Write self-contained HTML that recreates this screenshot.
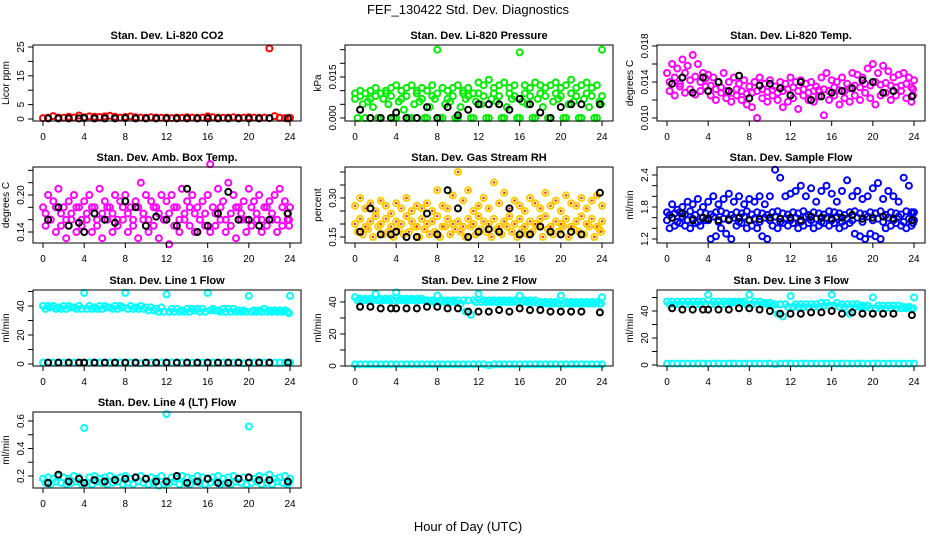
<!DOCTYPE html>
<html><head><meta charset="utf-8"><style>
html,body{margin:0;padding:0;background:#fff;}
svg{display:block;font-family:"Liberation Sans",sans-serif;}
</style></head><body>
<svg id="chart" width="936" height="540" viewBox="0 0 936 540" xmlns="http://www.w3.org/2000/svg">
<rect width="936" height="540" fill="#fff"/>
<text x="468" y="14" font-size="13" text-anchor="middle">FEF_130422  Std. Dev. Diagnostics</text>
<text x="468" y="531" font-size="13" text-anchor="middle">Hour of Day (UTC)</text>
</svg>
<script>
const hrs=[0,0.5,1,1.5,2,2.5,3,3.5,4,4.5,5,5.5,6,6.5,7,7.5,8,8.5,9,9.5,10,10.5,11,11.5,12,12.5,13,13.5,14,14.5,15,15.5,16,16.5,17,17.5,18,18.5,19,19.5,20,20.5,21,21.5,22,22.5,23,23.5,24];
const hrs2=[0.25,0.75,1.25,1.75,2.25,2.75,3.25,3.75,4.25,4.75,5.25,5.75,6.25,6.75,7.25,7.75,8.25,8.75,9.25,9.75,10.25,10.75,11.25,11.75,12.25,12.75,13.25,13.75,14.25,14.75,15.25,15.75,16.25,16.75,17.25,17.75,18.25,18.75,19.25,19.75,20.25,20.75,21.25,21.75,22.25,22.75,23.25,23.75,23.9];
const hrsB=[0.5,1.5,2.5,3.5,4,5,6,7,8,9,10,11,12,13,14,15,16,17,18,19,20,21,22,23.8];
const xTicks=[0,4,8,12,16,20,24];

const co2A=[0.3,0.4,1.0,0.5,0.4,0.8,0.5,1.2,0.6,0.9,0.8,0.7,0.9,1.1,0.8,0.5,0.7,0.9,0.6,0.5,0.4,0.6,0.5,0.4,0.5,0.3,0.5,0.4,0.6,0.5,0.4,0.5,0.9,0.6,0.5,0.4,0.5,0.6,0.4,0.5,0.6,0.5,0.4,0.5,24.5,1.0,0.4,0.3,0.4];
const co2B=[0.2,0.2,0.2,0.2,0.3,0.2,0.2,0.2,0.3,0.2,0.2,0.2,0.2,0.2,0.2,0.2,0.2,0.2,0.2,0.2,0.2,0.2,0.3,0.2];

const presA=[0.009,0.010,0.009,0.010,0.011,0.009,0.010,0.011,0.012,0.010,0.011,0.012,0.010,0.011,0.010,0.012,0.025,0.011,0.010,0.011,0.012,0.010,0.011,0.009,0.013,0.012,0.014,0.011,0.012,0.013,0.011,0.012,0.024,0.012,0.011,0.013,0.012,0.011,0.012,0.013,0.011,0.012,0.014,0.011,0.012,0.013,0.011,0.012,0.025];
const presB=[0,0.005,0.006,0.004,0,0.007,0.005,0,0.006,0.003,0,0.005,0.006,0,0.004,0.007,0,0.005,0.006,0,0.004,0.007,0,0.006,0.005,0,0.007,0.006,0,0.004,0.007,0,0.006,0.005,0,0.007,0.004,0,0.006,0.007,0,0.005,0.006,0,0.007,0.004,0,0.006,0.005];
const presC=[0.007,0.008,0,0.007,0.008,0,0.009,0.008,0,0.007,0.008,0,0.009,0.007,0,0.008,0.009,0,0.007,0.008,0,0.009,0.008,0,0.009,0.008,0,0.009,0.008,0,0.009,0.008,0,0.009,0.008,0,0.009,0.008,0,0.009,0.008,0,0.009,0.008,0,0.009,0.008,0,0.008];
const presK=[0.003,0,0,0,0.002,0,0,0.004,0,0.004,0.001,0.003,0.005,0.005,0.005,0.003,0.007,0.005,0.002,0,0.004,0.005,0.005,0.005];

const tempA=[0.0150,0.0160,0.0155,0.0165,0.0158,0.0170,0.0160,0.0150,0.0148,0.0145,0.0140,0.0150,0.0140,0.0145,0.0138,0.0142,0.0135,0.0140,0.0145,0.0138,0.0142,0.0135,0.0140,0.0138,0.0145,0.0140,0.0142,0.0138,0.0140,0.0135,0.0145,0.0150,0.0142,0.0140,0.0145,0.0138,0.0150,0.0148,0.0145,0.0155,0.0160,0.0150,0.0158,0.0152,0.0145,0.0148,0.0150,0.0145,0.0142];
const tempB=[0.0130,0.0125,0.0135,0.0128,0.0132,0.0126,0.0130,0.0135,0.0125,0.0120,0.0128,0.0122,0.0118,0.0125,0.0120,0.0115,0.0112,0.0100,0.0122,0.0118,0.0125,0.0120,0.0112,0.0118,0.0122,0.0110,0.0125,0.0120,0.0118,0.0124,0.0103,0.0120,0.0125,0.0115,0.0122,0.0118,0.0125,0.0120,0.0128,0.0122,0.0115,0.0125,0.0128,0.0120,0.0125,0.0130,0.0122,0.0118,0.0125];
const tempC=[0.0140,0.0145,0.0138,0.0150,0.0142,0.0146,0.0140,0.0144,0.0136,0.0132,0.0134,0.0130,0.0128,0.0132,0.0130,0.0127,0.0128,0.0130,0.0132,0.0129,0.0131,0.0128,0.0130,0.0132,0.0134,0.0130,0.0132,0.0128,0.0130,0.0131,0.0132,0.0130,0.0134,0.0131,0.0130,0.0133,0.0136,0.0134,0.0138,0.0136,0.0140,0.0137,0.0139,0.0136,0.0134,0.0136,0.0138,0.0134,0.0132];
const tempK=[0.0138,0.0145,0.0128,0.0145,0.0130,0.0140,0.0130,0.0147,0.0122,0.0136,0.0138,0.0133,0.0125,0.0140,0.0120,0.0124,0.0128,0.0130,0.0133,0.0142,0.0140,0.0128,0.0130,0.0124];

const ambA=[0.18,0.20,0.19,0.21,0.18,0.19,0.20,0.18,0.19,0.20,0.18,0.21,0.19,0.18,0.20,0.19,0.20,0.18,0.19,0.22,0.20,0.19,0.18,0.20,0.19,0.20,0.18,0.21,0.19,0.20,0.18,0.19,0.20,0.18,0.21,0.19,0.22,0.20,0.18,0.19,0.21,0.19,0.20,0.18,0.19,0.20,0.21,0.19,0.18];
const ambB=[0.15,0.16,0.14,0.15,0.13,0.16,0.14,0.15,0.16,0.14,0.15,0.13,0.16,0.14,0.15,0.16,0.14,0.15,0.13,0.16,0.14,0.15,0.13,0.16,0.12,0.15,0.14,0.16,0.15,0.14,0.16,0.15,0.14,0.15,0.16,0.14,0.15,0.13,0.16,0.14,0.15,0.16,0.14,0.15,0.16,0.14,0.15,0.16,0.15];
const ambC=[0.17,0.16,0.18,0.17,0.16,0.17,0.18,0.16,0.17,0.18,0.16,0.17,0.18,0.17,0.16,0.18,0.17,0.16,0.18,0.17,0.16,0.18,0.17,0.16,0.17,0.18,0.16,0.17,0.18,0.17,0.16,0.17,0.25,0.17,0.18,0.16,0.17,0.18,0.17,0.16,0.18,0.17,0.16,0.18,0.17,0.16,0.18,0.17,0.16];
const ambK=[0.16,0.18,0.15,0.155,0.14,0.17,0.16,0.155,0.19,0.18,0.15,0.165,0.16,0.15,0.21,0.14,0.15,0.17,0.205,0.16,0.16,0.15,0.16,0.17];

const rhA=[0.27,0.30,0.26,0.28,0.25,0.29,0.27,0.24,0.28,0.26,0.30,0.25,0.27,0.26,0.28,0.25,0.33,0.27,0.26,0.31,0.40,0.29,0.33,0.25,0.27,0.30,0.26,0.36,0.28,0.32,0.26,0.29,0.27,0.25,0.30,0.28,0.26,0.32,0.27,0.29,0.25,0.31,0.28,0.27,0.30,0.26,0.29,0.31,0.27];
const rhB=[0.17,0.16,0.18,0.15,0.19,0.16,0.17,0.15,0.18,0.16,0.17,0.19,0.15,0.18,0.16,0.17,0.15,0.19,0.16,0.18,0.17,0.15,0.19,0.16,0.18,0.17,0.15,0.18,0.16,0.19,0.17,0.15,0.18,0.16,0.17,0.19,0.15,0.18,0.16,0.17,0.19,0.15,0.18,0.17,0.16,0.19,0.15,0.18,0.17];
const rhC=[0.20,0.22,0.19,0.21,0.23,0.20,0.22,0.19,0.21,0.20,0.23,0.21,0.19,0.22,0.20,0.21,0.23,0.19,0.22,0.20,0.21,0.19,0.22,0.20,0.23,0.21,0.20,0.22,0.19,0.21,0.23,0.20,0.22,0.19,0.21,0.20,0.22,0.23,0.19,0.21,0.20,0.22,0.19,0.21,0.23,0.20,0.22,0.19,0.21];
const rhK=[0.17,0.26,0.16,0.16,0.17,0.15,0.15,0.24,0.16,0.33,0.26,0.15,0.17,0.18,0.17,0.26,0.16,0.16,0.19,0.17,0.16,0.17,0.16,0.32];

const flowA=[1.7,1.85,1.75,1.8,1.9,1.85,1.95,1.8,1.9,2.0,1.85,1.95,2.05,1.9,2.0,1.85,1.95,1.9,2.0,1.85,2.0,2.5,2.35,2.0,2.05,2.1,2.2,2.0,2.15,1.9,2.1,2.2,2.05,1.9,2.1,2.3,2.0,2.1,1.95,2.0,2.15,2.25,1.95,2.1,2.0,1.9,2.35,2.2,1.7];
const flowB=[1.4,1.45,1.5,1.45,1.4,1.5,1.45,1.55,1.2,1.25,1.4,1.3,1.2,1.45,1.5,1.4,1.45,1.4,1.25,1.2,1.45,1.4,1.5,1.45,1.5,1.4,1.45,1.5,1.4,1.45,1.5,1.45,1.5,1.4,1.45,1.5,1.3,1.25,1.2,1.3,1.25,1.2,1.4,1.45,1.5,1.45,1.4,1.45,1.5];
const flowC=[1.55,1.6,1.52,1.62,1.55,1.58,1.52,1.6,1.55,1.62,1.52,1.58,1.55,1.6,1.52,1.62,1.55,1.58,1.52,1.6,1.55,1.62,1.52,1.58,1.55,1.6,1.52,1.62,1.55,1.58,1.52,1.6,1.55,1.62,1.52,1.58,1.55,1.6,1.52,1.62,1.55,1.58,1.52,1.6,1.55,1.62,1.52,1.58,1.55];
const flowD=[1.65,1.68,1.7,1.66,1.72,1.65,1.7,1.68,1.66,1.7,1.72,1.68,1.65,1.7,1.68,1.72,1.66,1.7,1.68,1.65,1.7,1.72,1.68,1.66,1.7,1.68,1.72,1.65,1.7,1.68,1.66,1.72,1.7,1.68,1.65,1.7,1.72,1.68,1.66,1.7,1.68,1.72,1.65,1.7,1.68,1.66,1.72,1.7,1.68];
const flowK=[1.6,1.68,1.55,1.6,1.58,1.55,1.57,1.6,1.55,1.57,1.6,1.58,1.6,1.55,1.62,1.6,1.58,1.6,1.65,1.58,1.6,1.62,1.58,1.55];

const l1A=[40,40,40,39,40,40,39,40,49,40,39,40,40,39,40,40,49,40,39,40,39,39,38,39,48,38,38,37,38,38,38,38,49,38,37,38,38,38,37,37,47,37,37,38,37,37,37,37,47];
const l1B=[38,39,38,38,38,39,38,38,38,38,38,38,39,38,38,39,38,38,38,38,37,37,36,36,36,36,36,36,36,37,36,36,37,37,36,36,36,36,36,36,36,36,36,36,36,36,36,36,35];
const l1C=[1,1,1,1,1,1,1,1,1,1,1,1,1,1,1,1,1,1,1,0.5,1,1,1,1,1,1,1,1,1,1,1,1,1,1,1,1,1,1,1,0.5,1,1,1,1,1,1,1,1,1];
const l1K=[1,1,1,1,1,1,1,1,1,1,1,1,1,1,1,1,1,1,1,1,1,1,1,1];

const l2A=[43,42,42,42,45,42,42,42,46,42,42,42,42,42,41,41,44,41,41,41,41,41,41,41,45,41,41,41,41,41,41,41,44,41,41,41,40,40,40,40,44,40,40,40,40,40,40,40,43];
const l2B=[41,41,41,41,41,41,41,41,41,41,41,41,41,41,40,40,40,40,40,40,39,34,32,40,40,40,40,40,40,40,40,40,40,40,40,39,39,39,39,39,39,39,39,39,39,39,39,39,39];
const l2C=[1,1,1,1,1,1,1,1,1,1,1,1,1,1,1,1,1,1,1,1,1,1,1,1,1,1,0.5,1,1,1,1,1,1,1,1,1,1,1,1,1,1,1,1,1,1,1,1,1,1];
const l2K=[37,37,36,36,36,36,36,37,37,36,36,34,34,34,35,34,36,35,35,34,34,34,34,33.5];

const l3A=[47,47,47,47,47,47,47,47,52,47,47,47,47,47,47,47,52,47,47,46,46,45,45,45,51,45,45,45,45,45,46,46,52,46,45,45,45,45,44,44,50,44,44,44,44,44,43,43,50];
const l3B=[45,45,45,45,45,45,45,45,45,45,45,45,46,46,46,45,45,45,45,45,44,38,36,43,43,43,43,43,43,43,44,44,44,43,43,38,43,43,43,42,42,42,42,42,42,42,42,42,42];
const l3C=[1,1,1,1,1,1,1,1,1,1,1,1,1,1,1,1,1,1,1,1,1,0.5,1,1,1,1,1,1,1,1,1,1,1,1,1,1,1,1,1,1,1,1,1,1,1,1,1,1,1];
const l3K=[42,41,41,41,41,41,41,42,42,41,40,38,38,38,39,39,40,38,39,38,38,38,38,37];

const l4A=[0.18,0.19,0.18,0.20,0.19,0.18,0.20,0.19,0.55,0.19,0.20,0.18,0.19,0.20,0.18,0.19,0.20,0.18,0.19,0.20,0.18,0.19,0.18,0.20,0.65,0.19,0.18,0.20,0.19,0.18,0.20,0.19,0.18,0.19,0.20,0.18,0.19,0.20,0.18,0.19,0.56,0.18,0.20,0.19,0.21,0.18,0.19,0.20,0.18];
const l4B=[0.15,0.14,0.16,0.15,0.14,0.15,0.16,0.14,0.15,0.14,0.16,0.15,0.14,0.15,0.16,0.14,0.15,0.14,0.16,0.15,0.14,0.15,0.13,0.14,0.15,0.16,0.14,0.15,0.14,0.16,0.15,0.14,0.15,0.16,0.14,0.15,0.14,0.16,0.15,0.14,0.15,0.16,0.14,0.15,0.14,0.16,0.15,0.14,0.15];
const l4K=[0.15,0.21,0.16,0.18,0.15,0.17,0.16,0.17,0.18,0.19,0.18,0.16,0.16,0.20,0.15,0.16,0.18,0.15,0.15,0.18,0.19,0.17,0.17,0.16];

const NS='http://www.w3.org/2000/svg';
const svg=document.getElementById('chart');
function el(tag,attrs,parent){const e=document.createElementNS(NS,tag);for(const k in attrs)e.setAttribute(k,attrs[k]);(parent||svg).appendChild(e);return e;}

const colLeft=[33,345,657], rowTop=[45,167,290,412], BW=268, BH=76;
const panels=[
 {id:'co2',title:'Stan. Dev. Li-820 CO2',yl:'Licor ppm',c:0,r:0,cal:[0,119,25,47],ticks:[0,5,10,15,20,25],labs:['0','5','','15','','25'],
  series:[{x:hrs,y:co2A,col:'#ff0000'},{x:hrsB,y:co2B,col:'#000'}]},
 {id:'pressure',title:'Stan. Dev. Li-820 Pressure',yl:'kPa',c:1,r:0,cal:[0,118,0.015,77],ticks:[0,0.005,0.01,0.015,0.02,0.025],labs:['0.000','','','0.015','',''],
  series:[{x:hrs,y:presA,col:'#00ee00'},{x:hrs2,y:presB,col:'#00ee00'},{x:hrs,y:presC,col:'#00ee00'},{x:hrsB,y:presK,col:'#000'}]},
 {id:'temp',title:'Stan. Dev. Li-820 Temp.',yl:'degrees C',c:2,r:0,cal:[0.010,118,0.018,46],ticks:[0.010,0.012,0.014,0.016,0.018],labs:['0.010','','0.014','','0.018'],
  series:[{x:hrs,y:tempA,col:'#ff00ff'},{x:hrs2,y:tempB,col:'#ff00ff'},{x:hrs2,y:tempC,col:'#ff00ff'},{x:hrsB,y:tempK,col:'#000'}]},
 {id:'amb-temp',title:'Stan. Dev. Amb. Box Temp.',yl:'degrees C',c:0,r:1,cal:[0.14,232,0.20,195],ticks:[0.14,0.16,0.18,0.20,0.22,0.24],labs:['0.14','','','0.20','',''],
  series:[{x:hrs,y:ambA,col:'#ff00ff'},{x:hrs2,y:ambB,col:'#ff00ff'},{x:hrs2,y:ambC,col:'#ff00ff'},{x:hrsB,y:ambK,col:'#000'}]},
 {id:'rh',title:'Stan. Dev. Gas Stream RH',yl:'percent',c:1,r:1,cal:[0.15,237,0.30,198],ticks:[0.15,0.20,0.25,0.30,0.35,0.40],labs:['0.15','','','0.30','',''],
  series:[{x:hrs,y:rhA,col:'#ffcc00',dot:'#ff2200'},{x:hrs2,y:rhB,col:'#ffcc00',dot:'#ff2200'},{x:hrs,y:rhC,col:'#ffcc00',dot:'#ff2200'},{x:hrsB,y:rhK,col:'#000'}]},
 {id:'sample-flow',title:'Stan. Dev. Sample Flow',yl:'ml/min',c:2,r:1,cal:[1.2,239,2.4,175],ticks:[1.2,1.4,1.6,1.8,2.0,2.2,2.4],labs:['1.2','','','1.8','','','2.4'],
  series:[{x:hrs,y:flowA,col:'#0000ff'},{x:hrs2,y:flowB,col:'#0000ff'},{x:hrs,y:flowC,col:'#0000ff'},{x:hrs2,y:flowD,col:'#0000ff'},{x:hrsB,y:flowK,col:'#000'}]},
 {id:'line1',title:'Stan. Dev. Line 1 Flow',yl:'ml/min',c:0,r:2,cal:[0,364,40,306],ticks:[0,10,20,30,40,50],labs:['0','','20','','40',''],
  series:[{x:hrs,y:l1A,col:'#00ffff'},{x:hrs2,y:l1B,col:'#00ffff'},{x:hrs,y:l1C,col:'#00ffff'},{x:hrsB,y:l1K,col:'#000'}]},
 {id:'line2',title:'Stan. Dev. Line 2 Flow',yl:'ml/min',c:1,r:2,cal:[0,366,40,302],ticks:[0,10,20,30,40],labs:['0','','20','','40'],
  series:[{x:hrs,y:l2A,col:'#00ffff'},{x:hrs2,y:l2B,col:'#00ffff'},{x:hrs,y:l2C,col:'#00ffff'},{x:hrsB,y:l2K,col:'#000'}]},
 {id:'line3',title:'Stan. Dev. Line 3 Flow',yl:'ml/min',c:2,r:2,cal:[0,365,40,311],ticks:[0,10,20,30,40,50],labs:['0','','20','','40',''],
  series:[{x:hrs,y:l3A,col:'#00ffff'},{x:hrs2,y:l3B,col:'#00ffff'},{x:hrs,y:l3C,col:'#00ffff'},{x:hrsB,y:l3K,col:'#000'}]},
 {id:'line4',title:'Stan. Dev. Line 4 (LT) Flow',yl:'ml/min',c:0,r:3,cal:[0.2,476,0.6,421],ticks:[0.2,0.3,0.4,0.5,0.6],labs:['0.2','','0.4','','0.6'],
  series:[{x:hrs,y:l4A,col:'#00ffff'},{x:hrs2,y:l4B,col:'#00ffff'},{x:hrsB,y:l4K,col:'#000'}]}
];

panels.forEach(p=>{
  const L=colLeft[p.c], T=rowTop[p.r], B=T+BH;
  const g=el('g',{});
  
  
  const xs=v=>L+10+v*(BW-21)/24;
  const [v0,p0,v1,p1]=p.cal;
  const ys=v=>p0+(v-v0)*(p1-p0)/(v1-v0);
  const t=el('text',{x:L+BW/2,y:T-6,'font-size':11,'font-weight':'bold','text-anchor':'middle'},g);
  t.textContent=p.title;
  
  
  p.series.forEach((s,si)=>{
    const sg=el('g',{},g);
    
    
    s.y.forEach((v,i)=>{
      if(s.x[i]===undefined)return;
      const c=el('circle',{cx:xs(s.x[i]).toFixed(1),cy:ys(v).toFixed(1),r:3,fill:'none',stroke:s.col,'stroke-width':2},sg);
      
      
      if(s.dot){el('circle',{cx:xs(s.x[i]).toFixed(1),cy:ys(v).toFixed(1),r:1.2,fill:s.dot},sg);}
    });
  });
  const box=el('rect',{x:L,y:T,width:BW,height:BH,fill:'none',stroke:'#000','stroke-width':1},g);
  
  
  const ya=el('g',{},g);
  
  
  el('line',{x1:L,x2:L,y1:ys(p.ticks[0]),y2:ys(p.ticks[p.ticks.length-1]),stroke:'#000'},ya);
  p.ticks.forEach((v,i)=>{
    const y=ys(v);
    el('line',{x1:L-5,x2:L,y1:y,y2:y,stroke:'#000'},ya);
    if(p.labs[i]){const tx=el('text',{x:L-9,y:y,'font-size':10,'text-anchor':'middle',transform:`rotate(-90 ${L-9} ${y})`},ya);tx.textContent=p.labs[i];
      
      }
  });
  const yt=el('text',{x:L-24,y:T+BH/2,'font-size':10,'text-anchor':'middle',transform:`rotate(-90 ${L-24} ${T+BH/2})`},g);
  yt.textContent=p.yl;
  
  
  const xa=el('g',{},g);
  
  
  xTicks.forEach(v=>{
    const x=xs(v);
    el('line',{x1:x,x2:x,y1:B,y2:B+5,stroke:'#000'},xa);
    const tx=el('text',{x:x,y:B+19,'font-size':10,'text-anchor':'middle'},xa);
    tx.textContent=v;
    
    
  });
});
</script>
</body></html>
